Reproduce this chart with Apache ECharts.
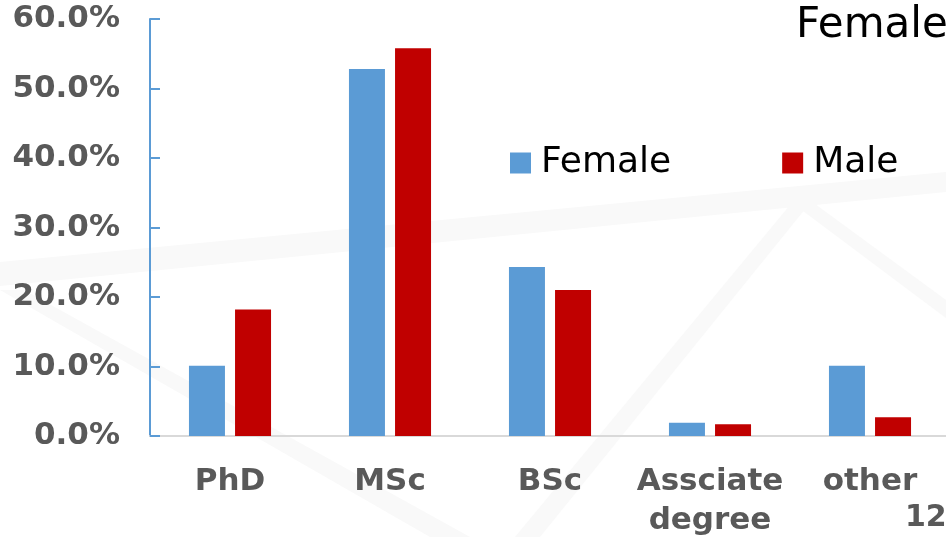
<!DOCTYPE html>
<html>
<head>
<meta charset="utf-8">
<style>
  html, body { margin: 0; padding: 0; background: #ffffff; }
  #chart { width: 946px; height: 537px; }
</style>
<script src="https://cdn.jsdelivr.net/npm/echarts@6/dist/echarts.min.js"></script>
</head>
<body>
<div id="chart"></div>
<script>
// Degree level distribution by gender (percent of respondents)
const categories = ['PhD', 'MSc', 'BSc', 'Assciate\ndegree', 'other'];
const femaleValues = [10.1, 52.8, 24.3, 1.9, 10.1];
const maleValues = [18.2, 55.8, 21.0, 1.7, 2.7];
const yTicks = { min: 0, max: 60, interval: 10 };

const labelGray = '#595959';
const boldFont = 'DejaVu Sans';

const chart = echarts.init(document.getElementById('chart'), null, { renderer: 'canvas' });

// Faint decorative backdrop shapes
const bg = '#f9f9f9';
const backdrop = [
  [[0, 262], [946, 172], [946, 192], [0, 286]],
  [[0, 290], [24, 290], [470, 537], [430, 537]],
  [[800, 193], [810, 203], [540, 537], [515, 537]],
  [[800, 193], [946, 300], [946, 318], [795, 205]]
].map(pts => ({
  type: 'polygon',
  z: -10,
  silent: true,
  shape: { points: pts },
  style: { fill: bg }
}));

chart.setOption({
  animation: false,
  backgroundColor: '#ffffff',
  title: {
    text: 'Female',
    left: 791,
    top: 0,
    textStyle: { fontFamily: boldFont, fontWeight: 'normal', fontSize: 42, color: '#000000' }
  },
  legend: {
    left: 505,
    top: 140,
    icon: 'rect',
    itemWidth: 21,
    itemHeight: 21,
    itemGap: 111,
    textStyle: { fontFamily: boldFont, fontSize: 36, color: '#000000', padding: [0, 0, 0, 5] },
    data: ['Female', 'Male']
  },
  grid: { left: 150, top: 19, width: 800, bottom: 101, outerBoundsMode: 'none', containLabel: false },
  xAxis: {
    type: 'category',
    data: categories,
    axisLine: { lineStyle: { color: '#d9d9d9', width: 2 } },
    axisTick: { show: false },
    axisLabel: {
      interval: 0,
      margin: 26,
      fontFamily: boldFont,
      fontWeight: 'bold',
      fontSize: 31,
      lineHeight: 39,
      color: labelGray
    }
  },
  yAxis: {
    type: 'value',
    min: yTicks.min,
    max: yTicks.max,
    interval: yTicks.interval,
    axisLine: { show: true, lineStyle: { color: '#5b9bd5', width: 2 } },
    axisTick: { show: true, inside: true, length: 10, lineStyle: { color: '#5b9bd5', width: 2 } },
    splitLine: { show: false },
    axisLabel: {
      margin: 30,
      fontFamily: boldFont,
      fontWeight: 'bold',
      fontSize: 31,
      color: labelGray,
      formatter: v => v.toFixed(1) + '%'
    }
  },
  series: [
    {
      name: 'Female',
      type: 'bar',
      data: femaleValues,
      barWidth: 36,
      barGap: '28%',
      itemStyle: { color: '#5b9bd5' }
    },
    {
      name: 'Male',
      type: 'bar',
      data: maleValues,
      barWidth: 36,
      itemStyle: { color: '#c00000' }
    }
  ],
  graphic: backdrop.concat([
    {
      type: 'text',
      left: 905,
      top: 503,
      silent: true,
      style: {
        text: '12',
        fontFamily: boldFont,
        fontWeight: 'bold',
        fontSize: 30,
        fill: labelGray
      }
    }
  ])
});
</script>
</body>
</html>
